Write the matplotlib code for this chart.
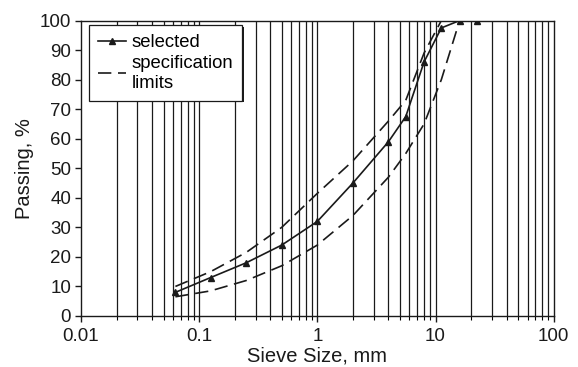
import matplotlib
matplotlib.use("Agg")
import matplotlib.pyplot as plt
import matplotlib.patheffects as pe
import numpy as np
from matplotlib.ticker import LogLocator, FixedLocator, NullFormatter

plt.rcParams['font.family'] = ['Liberation Sans', 'DejaVu Sans']

sieve = [0.063, 0.125, 0.25, 0.5, 1, 2, 4, 5.6, 8, 11.2, 16, 22.4]
selected = [8, 13, 18, 24, 32, 45, 59, 67.5, 86, 97.5, 100, 100]
upper = [10, 15, 21.5, 30, 41.5, 52.5, 66, 73, 89, 100, 100, 100]
lower = [6.5, 8.5, 12, 17, 24, 34, 47, 55, 65, 80, 100, 100]

xticks = [0.01, 0.1, 1, 10, 100]
xticklabels = ['0.01', '0.1', '1', '10', '100']
yticks = list(range(0, 101, 10))

fig = plt.figure(figsize=(5.78, 3.67), dpi=100)
ax = fig.add_axes([0.140, 0.139, 0.818, 0.805])

ax.set_xscale('log')
ax.set_xlim(0.01, 100)
ax.set_ylim(0, 100)

# vertical grid lines at every decade subdivision
gridx = [m * 10.0 ** e for e in range(-2, 2) for m in range(1, 10)][1:]
for gx in gridx:
    ax.axvline(gx, color='#1a1a1a', lw=0.9, zorder=1)

dash = (0, (8, 4))
ax.plot(sieve, selected, color='#1a1a1a', lw=1.2, marker='^', markersize=5,
        label='selected', zorder=3)
ax.plot(sieve, upper, color='#1a1a1a', lw=1.2, linestyle=dash,
        label='specification\nlimits', zorder=3)
ax.plot(sieve, lower, color='#1a1a1a', lw=1.2, linestyle=dash, zorder=3)

ax.xaxis.set_major_locator(FixedLocator(xticks))
ax.set_xticklabels(xticklabels)
ax.xaxis.set_minor_locator(LogLocator(base=10, subs=np.arange(2, 10)))
ax.xaxis.set_minor_formatter(NullFormatter())
ax.set_yticks(yticks)

ax.tick_params(axis='both', which='major', direction='out', length=4, width=1,
               labelsize=13.5, colors='#1a1a1a')
ax.tick_params(axis='x', which='minor', direction='out', length=3, width=0.8)
ax.tick_params(axis='x', pad=5)
ax.tick_params(axis='y', pad=3)

for s in ax.spines.values():
    s.set_color('#1a1a1a')
    s.set_linewidth(1.0)

ax.set_xlabel('Sieve Size, mm', fontsize=14.5, color='#1a1a1a', labelpad=1)
ax.set_ylabel('Passing, %', fontsize=14.5, color='#1a1a1a', labelpad=4)

leg = ax.legend(loc='upper left', bbox_to_anchor=(0.017, 0.985), borderaxespad=0,
                fontsize=13.3, frameon=True, fancybox=False, shadow=False,
                framealpha=1, edgecolor='#1a1a1a', handlelength=1.5,
                handletextpad=0.3, labelspacing=0.2, borderpad=0.5)
frame = leg.get_frame()
frame.set_linewidth(0.9)
frame.set_path_effects([pe.SimplePatchShadow(offset=(1.2, -1.2), shadow_rgbFace='#1a1a1a', alpha=1),
                        pe.Normal()])
leg.set_zorder(5)

fig.savefig('out.png', dpi=100)
